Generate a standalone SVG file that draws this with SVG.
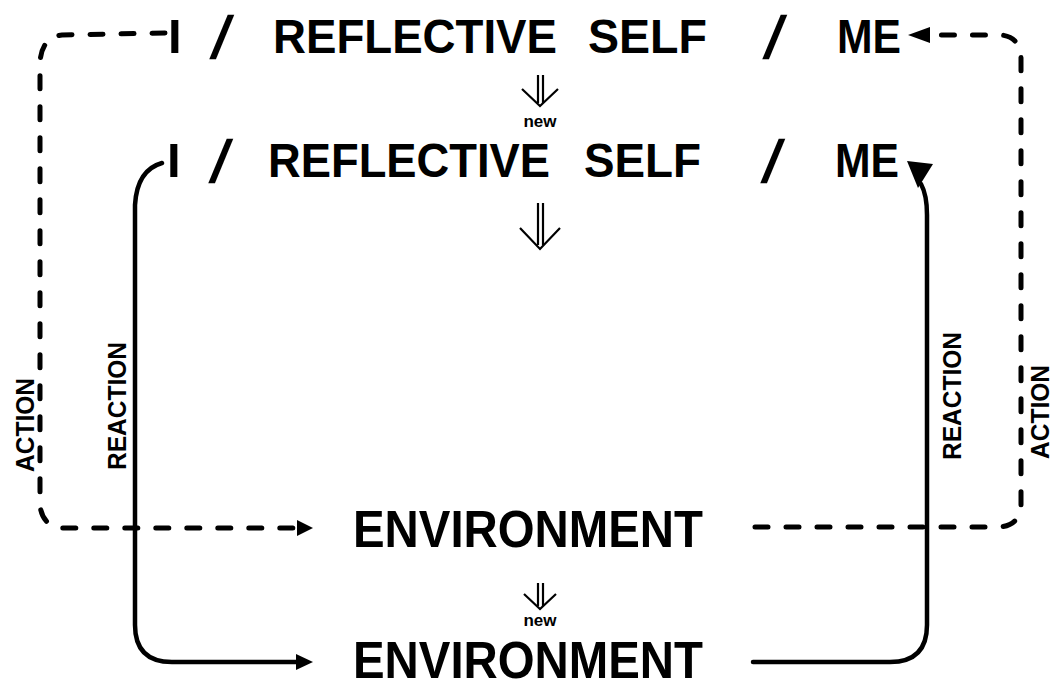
<svg xmlns="http://www.w3.org/2000/svg" width="1054" height="688" viewBox="0 0 1054 688">
<style>
.t{font-family:"Liberation Sans",Arial,sans-serif;font-weight:bold;fill:#000}
.big{font-size:49px}
.env{font-size:52px}
.lbl{font-size:25px}
.new{font-size:17px}
.dash{fill:none;stroke:#000;stroke-width:5;stroke-dasharray:13 18;stroke-linecap:round}
.solid{fill:none;stroke:#000;stroke-width:4.5;stroke-linecap:round}
.head{fill:#000}
.dbl{fill:none;stroke:#000;stroke-width:2.2}
</style>
<rect width="1054" height="688" fill="#fff"/>
<g id="connectors">
<path class="dash" d="M165,33 L62,35 Q42,37 40,62 L40,505 Q42,526 62,528 L297,528"/>
<polygon class="head" points="313,528 297,520 297,536"/>
<path class="dash" d="M755,527 L1000,527 Q1020,525 1021,505 L1021,58 Q1020,36 1000,35 L934,35"/>
<polygon class="head" points="908,35 930,27 930,43"/>
<path class="solid" d="M162,163 Q137,170 135,205 L135,625 Q135,662 172,662 L297,662"/>
<polygon class="head" points="313,662 296,654 296,670"/>
<path class="solid" d="M753,662 L890,662 Q927,662 927,625 L927,215 Q927,195 921,184"/>
<polygon class="head" points="907,161 933,164 918,188"/>
</g>
<g id="self-top">
<text class="t big" x="168" y="53">I</text>
<text class="t big" transform="translate(209,58) scale(1.15,1.22) skewX(-14)">/</text>
<text class="t big" x="273" y="53" textLength="284" lengthAdjust="spacingAndGlyphs">REFLECTIVE</text>
<text class="t big" x="588" y="53" textLength="119" lengthAdjust="spacingAndGlyphs">SELF</text>
<text class="t big" transform="translate(762,58) scale(1.15,1.22) skewX(-14)">/</text>
<text class="t big" x="837" y="53" textLength="64" lengthAdjust="spacingAndGlyphs">ME</text>
</g>
<g id="arrow-new-1">
<line class="dbl" x1="538" y1="75" x2="538" y2="103"/>
<line class="dbl" x1="543" y1="75" x2="543" y2="103"/>
<polyline class="dbl" points="522,89 540,106 558,89"/>
<text class="t new" x="540" y="127" text-anchor="middle">new</text>
</g>
<g id="self-new">
<text class="t big" x="167" y="177">I</text>
<text class="t big" transform="translate(208,182) scale(1.15,1.22) skewX(-14)">/</text>
<text class="t big" x="268" y="177" textLength="282" lengthAdjust="spacingAndGlyphs">REFLECTIVE</text>
<text class="t big" x="584" y="177" textLength="117" lengthAdjust="spacingAndGlyphs">SELF</text>
<text class="t big" transform="translate(760,182) scale(1.15,1.22) skewX(-14)">/</text>
<text class="t big" x="835" y="177" textLength="64" lengthAdjust="spacingAndGlyphs">ME</text>
</g>
<g id="arrow-2">
<line class="dbl" x1="538" y1="203" x2="538" y2="245"/>
<line class="dbl" x1="543" y1="203" x2="543" y2="245"/>
<polyline class="dbl" points="520,228 540,249 560,228"/>
</g>
<g id="environment">
<text class="t env" x="353" y="547" textLength="350" lengthAdjust="spacingAndGlyphs">ENVIRONMENT</text>
</g>
<g id="arrow-new-3">
<line class="dbl" x1="538" y1="583" x2="538" y2="606"/>
<line class="dbl" x1="543" y1="583" x2="543" y2="606"/>
<polyline class="dbl" points="524,594 540,609 556,594"/>
<text class="t new" x="540" y="626" text-anchor="middle">new</text>
</g>
<g id="environment-new">
<text class="t env" x="353" y="678" textLength="350" lengthAdjust="spacingAndGlyphs">ENVIRONMENT</text>
</g>
<g id="labels">
<text class="t lbl" transform="translate(34,425) rotate(-90)" text-anchor="middle" textLength="94" lengthAdjust="spacingAndGlyphs">ACTION</text>
<text class="t lbl" transform="translate(126,406) rotate(-90)" text-anchor="middle" textLength="128" lengthAdjust="spacingAndGlyphs">REACTION</text>
<text class="t lbl" transform="translate(961,396) rotate(-90)" text-anchor="middle" textLength="128" lengthAdjust="spacingAndGlyphs">REACTION</text>
<text class="t lbl" transform="translate(1049,412) rotate(-90)" text-anchor="middle" textLength="94" lengthAdjust="spacingAndGlyphs">ACTION</text>
</g>
</svg>
